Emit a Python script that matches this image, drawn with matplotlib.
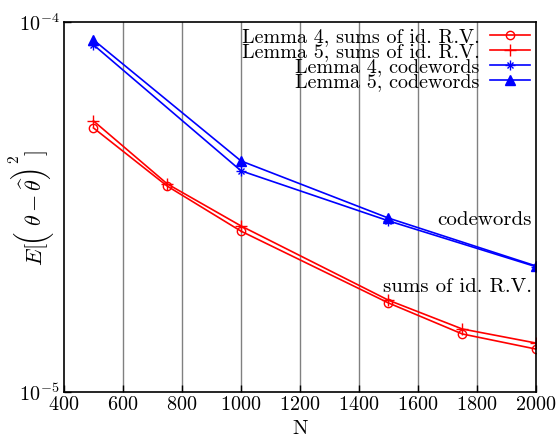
import os
import matplotlib
matplotlib.use("Agg")
import matplotlib.pyplot as plt
import matplotlib.transforms as mtransforms
from matplotlib.ticker import FixedLocator, NullLocator
from matplotlib.font_manager import FontProperties
from matplotlib.ft2font import FT2Font

plt.rcParams['font.family'] = ['cmr10', 'DejaVu Serif']
plt.rcParams['mathtext.fontset'] = 'cm'
plt.rcParams['axes.formatter.use_mathtext'] = True

N_sums = [500, 750, 1000, 1500, 1750, 2000]
lemma4_sums = [5.17e-5, 3.60e-5, 2.72e-5, 1.74e-5, 1.435e-5, 1.306e-5]
lemma5_sums = [5.40e-5, 3.65e-5, 2.81e-5, 1.77e-5, 1.48e-5, 1.356e-5]

N_code = [500, 1000, 1500, 2000]
lemma4_code = [8.67e-5, 3.96e-5, 2.90e-5, 2.18e-5]
lemma5_code = [8.94e-5, 4.21e-5, 2.95e-5, 2.19e-5]

labels = ["Lemma 4, sums of id. R.V.", "Lemma 5, sums of id. R.V.",
          "Lemma 4, codewords", "Lemma 5, codewords"]
xticks = [400, 600, 800, 1000, 1200, 1400, 1600, 1800, 2000]
yticks = [1e-5, 1e-4]
ytick_labels = [r'$\mathregular{10^{-5}}$', r'$\mathregular{10^{-4}}$']

W, H, DPI = 556, 437, 100
fig = plt.figure(figsize=(W / DPI, H / DPI), dpi=DPI)
ax = fig.add_axes([0.115, 0.103, 0.849, 0.847])

ax.set_yscale('log')
ax.set_xlim(400, 2000)
ax.set_ylim(1e-5, 1e-4)

for x in xticks[1:-1]:
    ax.axvline(x, color='#808080', lw=1.0, zorder=0)

ax.plot(N_sums, lemma4_sums, color='red', lw=1.2, marker='o', ms=6,
        mfc='none', mec='red', mew=1.0)
ax.plot(N_sums, lemma5_sums, color='red', lw=1.2, marker='+', ms=8,
        mew=1.0)
ax.plot(N_code, lemma4_code, color='blue', lw=1.2, marker='x', ms=5,
        mew=1.0)
ax.plot(N_code, lemma4_code, color='blue', lw=0, marker='+', ms=7,
        mew=1.0)
ax.plot(N_code, lemma5_code, color='blue', lw=1.2, marker='^', ms=7)

lines = ax.get_lines()[7:]

ax.xaxis.set_major_locator(FixedLocator(xticks))
ax.yaxis.set_major_locator(FixedLocator(yticks))
ax.yaxis.set_minor_locator(NullLocator())
ax.set_yticklabels(ytick_labels)
ax.tick_params(axis='both', direction='in', length=5, labelsize=14.5, width=1,
               top=False, right=False)
ax.tick_params(axis='x', pad=3)
ax.tick_params(axis='y', pad=3)

for s in ax.spines.values():
    s.set_linewidth(1.2)

ax.set_xlabel('N', fontsize=15, labelpad=4)

leg = ax.legend([lines[0], lines[1], (lines[2], lines[3]), lines[4]], labels,
                loc='upper right', frameon=False, markerfirst=False,
                fontsize=14.5, handlelength=2.0, handletextpad=0.5,
                labelspacing=-0.15, borderaxespad=0.1, borderpad=0.2)
for t in leg.get_texts():
    t.set_ha('right')

ax.text(1985, 2.92e-5, 'codewords', ha='right', va='center', fontsize=15)
ax.text(1985, 1.92e-5, 'sums of id. R.V.', ha='right', va='center', fontsize=15)

# ---- y-axis label  E[ \Big( theta - widehat(theta) \Big)^2 ]  (rotated) ----
ident = mtransforms.IdentityTransform()
LABEL_SIZE = 16
base_x = 42.0


def put(s, x, y_bottom, **kw):
    return fig.text(x, y_bottom, s, rotation=90, rotation_mode='anchor',
                    ha='left', va='baseline', transform=ident, **kw)


put(r'$E[$', base_x, H - 266, fontsize=LABEL_SIZE)
put(r'$\theta-\widehat{\theta}$', base_x, H - 226, fontsize=LABEL_SIZE)
put(r'$]$', base_x, H - 156, fontsize=LABEL_SIZE)
put('2', 18.5, H - 163, fontsize=11)

cmex_path = os.path.join(matplotlib.get_data_path(), 'fonts', 'ttf', 'cmex10.ttf')
cmex_fp = FontProperties(fname=cmex_path, size=LABEL_SIZE)
ft = FT2Font(cmex_path)
ft.set_size(LABEL_SIZE, DPI)
for code, ink_start_top in ((0xB3, 237), (0xB4, 178)):
    g = ft.load_char(code)
    top = g.horiBearingY / 64.0
    bottom = (g.height - g.horiBearingY) / 64.0
    bearing_x = g.horiBearingX / 64.0
    px = 30.5 + (top - bottom) / 2.0
    y0 = (H - ink_start_top) - bearing_x
    put(chr(code), px, y0, fontproperties=cmex_fp)

fig.savefig('out.png', dpi=DPI)
